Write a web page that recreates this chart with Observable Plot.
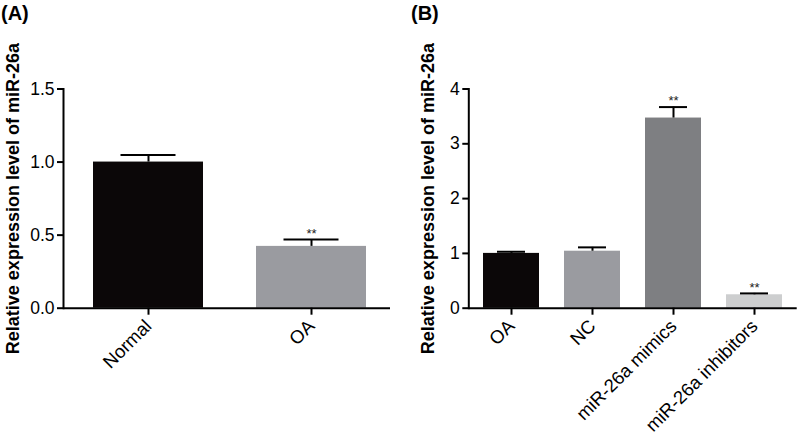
<!DOCTYPE html>
<html>
<head>
<meta charset="utf-8">
<script src="https://cdn.jsdelivr.net/npm/d3@7"></script>
<script src="https://cdn.jsdelivr.net/npm/@observablehq/plot@0.6"></script>
<style>
  html, body { margin: 0; padding: 0; background: #fff; }
  #wrap { position: relative; width: 799px; height: 435px; overflow: hidden; font-family: "Liberation Sans", Arial, sans-serif; }
  .panel { position: absolute; top: 0; }
  .plabel { position: absolute; font-weight: bold; font-size: 20px; line-height: 1; }
</style>
</head>
<body>
<div id="wrap"></div>
<script>
// ---- Data ----
const yLabel = "Relative expression level of miR-26a";

const categoriesA = ["Normal", "OA"];
const valuesA = [1.0, 0.423];
const errorsA = [0.048, 0.047];
const starsA = ["", "**"];
const colorsA = ["#0b0708", "#9a9ba0"];
const ticksA = [0, 0.5, 1.0, 1.5];

const categoriesB = ["OA", "NC", "miR-26a mimics", "miR-26a inhibitors"];
const valuesB = [1.0, 1.04, 3.47, 0.245];
const errorsB = [0.03, 0.07, 0.2, 0.025];
const starsB = ["", "", "**", "**"];
const colorsB = ["#0b0708", "#9a9ba0", "#7e7f82", "#cdcecf"];
const ticksB = [0, 1, 2, 3, 4];

const font = "'Liberation Sans', Arial, sans-serif";

function panel({cats, vals, errs, stars, colors, ticks, yMax, fmt, width, marginLeft, marginRight, capInset, labelDx, pInner, pOuter, align}) {
  const data = cats.map((c, i) => ({cat: c, value: vals[i], err: errs[i], star: stars[i], top: vals[i] + errs[i]}));
  return Plot.plot({
    width, height: 435,
    marginLeft, marginRight, marginTop: 88.5, marginBottom: 127.3,
    style: {fontFamily: font, background: "#fff", color: "#000", overflow: "visible"},
    x: {domain: cats, paddingInner: pInner, paddingOuter: pOuter, align, label: null},
    y: {domain: [0, yMax], label: null},
    color: {domain: cats, range: colors},
    marks: [
      Plot.barY(data, {x: "cat", y: "value", fill: "cat"}),
      Plot.ruleX(data, {x: "cat", y1: "value", y2: "top", stroke: "#000", strokeWidth: 2}),
      Plot.tickY(data, {x: "cat", y: "top", insetLeft: capInset, insetRight: capInset, stroke: "#000", strokeWidth: 2}),
      Plot.text(data.filter(d => d.star), {x: "cat", y: "top", text: "star", dy: -6, fontSize: 13, fill: "#222"}),
      Plot.ruleY([0], {stroke: "#000", strokeWidth: 2}),
      Plot.frame({anchor: "left", stroke: "#000", strokeWidth: 2}),
      Plot.axisY({ticks, tickFormat: fmt, tickSize: 6, tickPadding: 3, fontSize: 17.5, strokeWidth: 2, label: null}),
      Plot.axisX({tickSize: 7, tickPadding: 8, tickRotate: -45, fontSize: 18.5, strokeWidth: 2, label: null}),
      Plot.text([yLabel], {frameAnchor: "left", textAnchor: "middle", text: d => d, rotate: -90, dx: labelDx, fontSize: 18, fontWeight: "bold", fill: "#000"})
    ]
  });
}

const wrap = document.getElementById("wrap");

const pa = panel({cats: categoriesA, vals: valuesA, errs: errorsA, stars: starsA, colors: colorsA, ticks: ticksA, yMax: 1.5,
  fmt: d3.format(".1f"), width: 400, marginLeft: 63, marginRight: 10, capInset: 27.5, labelDx: -50,
  pInner: 0.323, pOuter: 0.159, align: 0.55});
const pb = panel({cats: categoriesB, vals: valuesB, errs: errorsB, stars: starsB, colors: colorsB, ticks: ticksB, yMax: 4,
  fmt: d3.format("d"), width: 399, marginLeft: 68.3, marginRight: 2.3, capInset: 14, labelDx: -41,
  pInner: 0.306, pOuter: 0.16, align: 0.5});

const da = document.createElement("div"); da.className = "panel"; da.style.left = "0px"; da.appendChild(pa);
const db = document.createElement("div"); db.className = "panel"; db.style.left = "400px"; db.appendChild(pb);
wrap.appendChild(da); wrap.appendChild(db);

const la = document.createElement("div"); la.className = "plabel"; la.textContent = "(A)"; la.style.left = "1px"; la.style.top = "3px";
const lb = document.createElement("div"); lb.className = "plabel"; lb.textContent = "(B)"; lb.style.left = "411px"; lb.style.top = "3px";
wrap.appendChild(la); wrap.appendChild(lb);
</script>
</body>
</html>
